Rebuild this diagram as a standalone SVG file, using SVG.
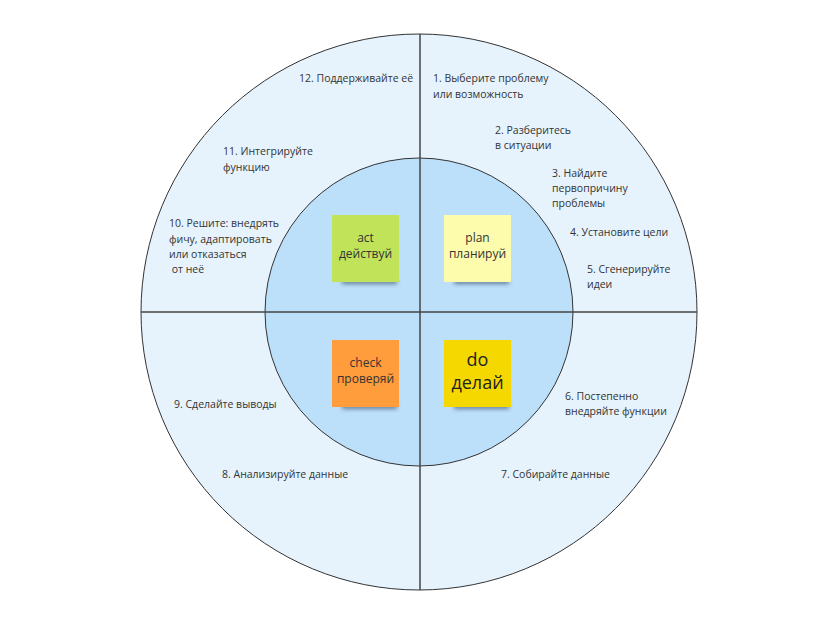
<svg xmlns="http://www.w3.org/2000/svg" width="837" height="626" viewBox="0 0 837 626">
<defs>
<filter id="blur" x="-50%" y="-200%" width="200%" height="500%"><feGaussianBlur stdDeviation="2"/></filter>
<style>
.t{font-family:"Open Sans","Noto Sans",sans-serif;font-size:10.5px;fill:#333}
.s{font-family:"Open Sans","Noto Sans",sans-serif;font-size:12px;fill:#333;text-anchor:middle}
.b{font-family:"Open Sans","Noto Sans",sans-serif;font-size:18px;fill:#222;text-anchor:middle}
.ln{stroke:#444;stroke-width:1.5;fill:none}
.sh{fill:#2a3a55;opacity:0.6;filter:url(#blur)}
</style>
</defs>
<rect width="837" height="626" fill="#fff"/>
<g id="outer"><circle cx="419" cy="312" r="278" fill="#e6f3fd" stroke="#333" stroke-width="1"/></g>
<g id="inner"><circle cx="419" cy="312" r="154" fill="#bde0fa" stroke="#333" stroke-width="1"/></g>
<g id="connectors">
<line class="ln" x1="420" y1="34" x2="420" y2="590"/>
<line class="ln" x1="141" y1="312" x2="697" y2="312"/>
</g>
<g id="act">
<rect class="sh" x="342" y="279" width="55" height="5"/>
<rect x="332" y="215" width="67" height="67" fill="#c0e35a"/>
<text class="s" x="365.5" y="242">act</text>
<text class="s" x="365.5" y="258">действуй</text>
</g>
<g id="plan">
<rect class="sh" x="454" y="279" width="55" height="5"/>
<rect x="444" y="215" width="67" height="67" fill="#fdfbac"/>
<text class="s" x="477.5" y="242">plan</text>
<text class="s" x="477.5" y="258">планируй</text>
</g>
<g id="check">
<rect class="sh" x="342" y="404" width="55" height="5"/>
<rect x="332" y="340" width="67" height="67" fill="#ff9c3b"/>
<text class="s" x="365.5" y="367">check</text>
<text class="s" x="365.5" y="383">проверяй</text>
</g>
<g id="do">
<rect class="sh" x="454" y="404" width="55" height="5"/>
<rect x="444" y="340" width="67" height="67" fill="#f5d800"/>
<text class="b" x="477.5" y="366">do</text>
<text class="b" x="477.5" y="389">делай</text>
</g>
<g id="step1"><text class="t" x="433" y="82">1. Выберите проблему</text><text class="t" x="433" y="98">или возможность</text></g>
<g id="step2"><text class="t" x="495" y="134">2. Разберитесь</text><text class="t" x="495" y="149">в ситуации</text></g>
<g id="step3"><text class="t" x="552" y="177">3. Найдите</text><text class="t" x="552" y="192">первопричину</text><text class="t" x="552" y="207">проблемы</text></g>
<g id="step4"><text class="t" x="570" y="236">4. Установите цели</text></g>
<g id="step5"><text class="t" x="587" y="273">5. Сгенерируйте</text><text class="t" x="587" y="288">идеи</text></g>
<g id="step6"><text class="t" x="565" y="400">6. Постепенно</text><text class="t" x="565" y="415">внедряйте функции</text></g>
<g id="step7"><text class="t" x="501" y="478">7. Собирайте данные</text></g>
<g id="step8"><text class="t" x="222" y="478">8. Анализируйте данные</text></g>
<g id="step9"><text class="t" x="174" y="408">9. Сделайте выводы</text></g>
<g id="step10"><text class="t" x="169" y="227">10. Решите: внедрять</text><text class="t" x="169" y="243">фичу, адаптировать</text><text class="t" x="169" y="258">или отказаться</text><text class="t" x="169" y="273" xml:space="preserve"> от неё</text></g>
<g id="step11"><text class="t" x="223" y="155">11. Интегрируйте</text><text class="t" x="223" y="171">функцию</text></g>
<g id="step12"><text class="t" x="299" y="82">12. Поддерживайте её</text></g>
</svg>
